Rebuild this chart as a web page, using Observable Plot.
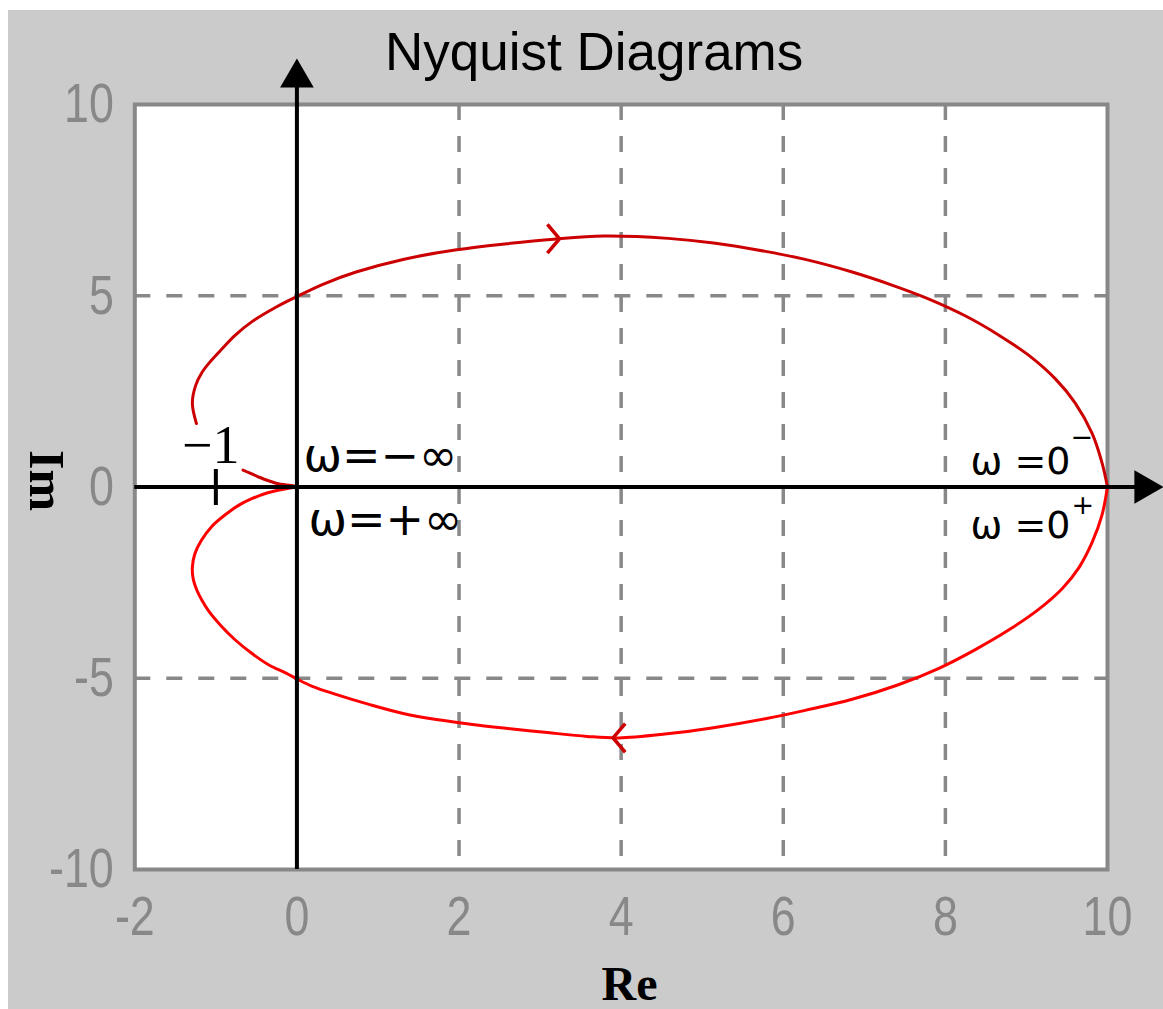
<!DOCTYPE html>
<html>
<head>
<meta charset="utf-8">
<script src="https://cdn.jsdelivr.net/npm/d3@7"></script>
<script src="https://cdn.jsdelivr.net/npm/@observablehq/plot@0.6"></script>
<style>
  html, body { margin: 0; padding: 0; background: #ffffff; }
  #chart { position: absolute; left: 8px; top: 10px; width: 1155px; height: 999px; background: #cbcbcb; }
</style>
</head>
<body>
<div id="chart"></div>
<script>
// Nyquist contour of the open-loop response, as (Re, Im) pairs.
// Negative-frequency branch: from ω = −∞ (origin) round to ω = 0⁻ at (10, 0).
// The NaN pair leaves the gap where the “−1” marker is written.
const negRe = [0, -0.07, -0.20, -0.36, -0.49, -0.665, NaN, -1.24, -1.29, -1.25, -1.17, -1.06, -0.92, -0.76, -0.55,
  -0.26, 0.01, 0.32, 0.73, 1.31, 1.97, 2.59, 3.17, 3.79, 4.58, 5.14, 5.78, 6.27, 6.85, 7.34, 7.79, 8.25,
  8.66, 9.03, 9.36, 9.60, 9.81, 9.93, 10];
const negIm = [0, 0.04, 0.07, 0.17, 0.28, 0.44, NaN, 1.66, 2.19, 2.65, 3.00, 3.30, 3.62, 3.97, 4.33,
  4.70, 4.99, 5.30, 5.62, 5.95, 6.20, 6.36, 6.48, 6.56, 6.50, 6.38, 6.16, 5.95, 5.62, 5.28, 4.92, 4.47,
  3.97, 3.44, 2.82, 2.20, 1.40, 0.65, 0];

// Positive-frequency branch: from ω = 0⁺ at (10, 0) back to ω = +∞ (origin).
const posRe = [10, 9.93, 9.81, 9.65, 9.44, 9.15, 8.78, 8.37, 7.92, 7.42, 6.85, 6.27, 5.78, 5.12, 4.54, 3.97,
  3.58, 3.09, 2.55, 2.14, 1.72, 1.31, 0.90, 0.48, 0.19, 0.01, -0.14, -0.34, -0.55, -0.76, -0.94, -1.09,
  -1.17, -1.23, -1.28, -1.29, -1.26, -1.18, -1.05, -0.88, -0.72, -0.55, -0.36, -0.15, 0];
const posIm = [0, -0.75, -1.45, -2.10, -2.66, -3.20, -3.74, -4.25, -4.74, -5.17, -5.55, -5.84, -6.06, -6.30, -6.46, -6.56,
  -6.52, -6.42, -6.30, -6.20, -6.08, -5.92, -5.69, -5.42, -5.21, -5.03, -4.86, -4.66, -4.36, -4.00, -3.62, -3.24,
  -2.97, -2.72, -2.40, -2.10, -1.75, -1.40, -1.03, -0.72, -0.48, -0.30, -0.15, -0.05, 0];

// Direction-of-travel marks on each branch
const dirRe = [3.24, 3.90];
const dirIm = [6.49, -6.56];
const dirBranch = ["neg", "pos"];

// Axes
const reTicks = [-2, 0, 2, 4, 6, 8, 10];
const imTicks = [-10, -5, 0, 5, 10];
const reGrid = [2, 4, 6, 8];
const imGrid = [-5, 5];

// Critical point −1 + 0j
const criticalRe = [-1];
const criticalIm = [0];

// Frequency annotations at the ends of the contour
const omegaText = ["ω=−∞", "ω=+∞", "ω =0", "ω =0"];
const omegaSup = ["", "", "−", "+"];
const omegaRe = [0, 0, 10, 10];
const omegaIm = [0, 0, 0, 0];

const title = "Nyquist Diagrams";
const reLabel = "Re";
const imLabel = "Im";

// ---- tables for the marks ----
const negBranch = negRe.map((re, i) => ({re, im: negIm[i]}));
const posBranch = posRe.map((re, i) => ({re, im: posIm[i]}));
const directions = dirRe.map((re, i) => ({re, im: dirIm[i], branch: dirBranch[i]}));
const critical = criticalRe.map((re, i) => ({re, im: criticalIm[i]}));
const omega = omegaText.map((text, i) => ({text, sup: omegaSup[i], re: omegaRe[i], im: omegaIm[i]}));

// open ">" head pointing up before rotation, tip at the anchor
const chevron = {
  draw(context, l) {
    context.moveTo(-l, l * 0.85);
    context.lineTo(0, 0);
    context.lineTo(l, l * 0.85);
  }
};
// short stroke across the real axis
const crossTick = {
  draw(context, l) {
    context.moveTo(0, -l / 2);
    context.lineTo(0, l / 2);
  }
};

const gridStyle = {stroke: "#888888", strokeOpacity: 1, strokeWidth: 3.5, strokeDasharray: "16 16"};
const tickFont = "'Liberation Sans', Arial, sans-serif";
const symbolFont = "'DejaVu Sans', sans-serif";
const serifFont = "'Liberation Serif', serif";
const omegaStyle = {x: "re", y: "im", fontFamily: symbolFont, fill: "black"};

const chart = Plot.plot({
  width: 1155,
  height: 999,
  marginTop: 94,
  marginRight: 56,
  marginBottom: 140,
  marginLeft: 126.3,
  style: {background: "transparent", overflow: "visible"},
  x: {domain: [-2, 10]},
  y: {domain: [-10, 10]},
  marks: [
    Plot.frame({fill: "white", stroke: "none"}),
    Plot.ruleX(reGrid, gridStyle),
    Plot.ruleY(imGrid, gridStyle),
    Plot.frame({stroke: "#888888", strokeWidth: 4}),

    // contour branches
    Plot.line(negBranch, {x: "re", y: "im", stroke: "#cc0000", strokeWidth: 3, curve: "catmull-rom"}),
    Plot.line(posBranch, {x: "re", y: "im", stroke: "#ff0000", strokeWidth: 3, curve: "catmull-rom"}),
    Plot.vector(directions, {
      x: "re", y: "im", rotate: (d) => (d.branch === "neg" ? 90 : -90),
      length: 13, anchor: "start", shape: chevron,
      stroke: "#cc0000", strokeWidth: 3.5, strokeLinecap: "square", strokeLinejoin: "miter"
    }),

    // real and imaginary axes with arrowheads
    Plot.ruleX([0], {stroke: "black", strokeWidth: 4, insetTop: -24}),
    Plot.ruleY([0], {stroke: "black", strokeWidth: 4, insetRight: -33}),
    Plot.dot([0], {x: (d) => d, frameAnchor: "top", symbol: "triangle", r: 12.5, fill: "black", stroke: "none", dy: -26.6}),
    Plot.dot([0], {y: (d) => d, frameAnchor: "right", symbol: "triangle", rotate: 90, r: 12.5, fill: "black", stroke: "none", dx: 36.6}),

    // critical point
    Plot.vector(critical, {x: "re", y: "im", length: 36, anchor: "start", shape: crossTick, stroke: "black", strokeWidth: 4, strokeLinecap: "butt"}),
    Plot.text(critical, {x: "re", y: "im", text: (d) => String(d.re).replace("-", "−"), dx: -5, dy: -41,
      fontSize: 54, fontFamily: serifFont, fill: "black"}),

    // frequency annotations
    Plot.text(omega.slice(0, 1), {...omegaStyle, text: "text", textAnchor: "start", dx: 6.6, dy: -30.5, fontSize: 46}),
    Plot.text(omega.slice(1, 2), {...omegaStyle, text: "text", textAnchor: "start", dx: 11.6, dy: 33.5, fontSize: 46}),
    Plot.text(omega.slice(2, 3), {...omegaStyle, text: "text", textAnchor: "end", dx: -37, dy: -25.5, fontSize: 38}),
    Plot.text(omega.slice(3, 4), {...omegaStyle, text: "text", textAnchor: "end", dx: -37, dy: 38.5, fontSize: 38}),
    Plot.text(omega.slice(2, 3), {...omegaStyle, text: "sup", textAnchor: "start", dx: -37, dy: -49.5, fontSize: 27}),
    Plot.text(omega.slice(3, 4), {...omegaStyle, text: "sup", textAnchor: "start", dx: -36, dy: 18.5, fontSize: 27}),

    // tick labels
    Plot.axisX({ticks: reTicks, tickSize: 0, tickPadding: 26, tickFormat: (d) => `${d}`, label: null,
      fontSize: 56, fontFamily: tickFont, color: "#888888"}),
    Plot.axisY({ticks: imTicks, tickSize: 0, tickPadding: 21, tickFormat: (d) => `${d}`, label: null,
      fontSize: 56, fontFamily: tickFont, color: "#888888"}),

    // title and axis names
    Plot.text([title], {text: (d) => d, frameAnchor: "top", lineAnchor: "middle", textAnchor: "middle", dx: -27, dy: -51,
      fontSize: 53, fontFamily: tickFont, fill: "black"}),
    Plot.text([reLabel], {text: (d) => d, frameAnchor: "bottom", lineAnchor: "middle", textAnchor: "middle", dx: 8.4, dy: 115,
      fontSize: 48, fontWeight: "bold", fontFamily: serifFont, fill: "black"}),
    Plot.text([imLabel], {text: (d) => d, frameAnchor: "left", lineAnchor: "middle", textAnchor: "middle", rotate: 90, dx: -89, dy: -6.5,
      fontSize: 50, fontWeight: "bold", fontFamily: serifFont, fill: "black"})
  ]
});

// tick numerals are set in a condensed face: narrow each label about its anchor
d3.select(chart)
  .selectAll('g[aria-label="x-axis tick label"] text, g[aria-label="y-axis tick label"] text')
  .attr("transform", function () { return (this.getAttribute("transform") || "") + " scale(0.8,1)"; });

document.getElementById("chart").appendChild(chart);
</script>
</body>
</html>
